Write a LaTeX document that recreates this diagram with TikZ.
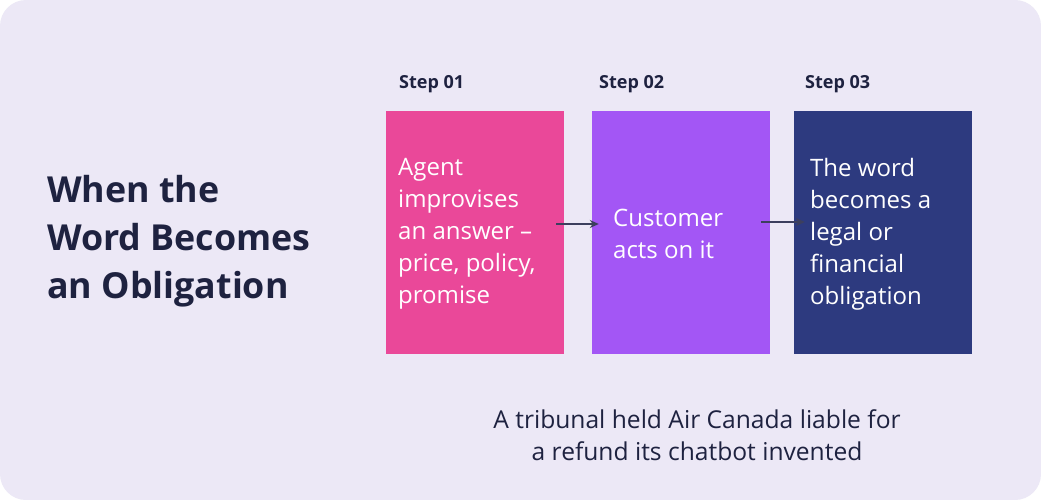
\documentclass[tikz,border=0pt]{standalone}
\usepackage{fontspec}
\setmainfont{Open Sans}
\usetikzlibrary{arrows.meta}

\definecolor{bgpanel}{HTML}{ECE8F6}
\definecolor{inkdark}{HTML}{1E2240}
\definecolor{arrowink}{HTML}{3C3F5E}
\definecolor{steppink}{HTML}{EA4899}
\definecolor{steppurple}{HTML}{A356F5}
\definecolor{stepnavy}{HTML}{2D3A7F}

\tikzset{
  stepbox/.style={rectangle, minimum width=178pt, minimum height=243pt, inner sep=0pt},
  steptext/.style={anchor=west, align=left, text=white, inner sep=0pt,
    font=\fontsize{24}{32}\selectfont},
  steplabel/.style={anchor=west, inner sep=0pt, text=inkdark,
    font=\fontsize{18}{20}\selectfont\bfseries},
  flow/.style={draw=arrowink, line width=1.4pt, -{Stealth[length=9pt,width=8pt]}}
}

\begin{document}
\begin{tikzpicture}[x=1pt,y=-1pt]
			\path[use as bounding box] (0,0) rectangle (1041,500);
			\fill[white] (0,0) rectangle (1041,500);
			\fill[bgpanel, rounded corners=26pt] (0,0) rectangle (1041,500);
			% title
			\node[anchor=west, align=left, inner sep=0pt, text=inkdark,
			  font=\fontsize{35.8}{48}\selectfont\bfseries] (title) at (47,241)
			  {When the\\Word Becomes\\an Obligation};
			% the three steps
			\foreach \i/\x/\col in {1/386/steppink,2/592/steppurple,3/794/stepnavy}
			\node[stepbox, fill=\col] (box\i) at (\x + 89, 232.5) {};
			\foreach \i/\x in {1/399,2/599,3/805}
			\node[steplabel] (label\i) at (\x, 84) {Step 0\i};
			\node[steptext] (text1) at (398, 234) {Agent\\improvises\\an answer –\\price, policy,\\promise};
			\node[steptext] (text2) at (613, 234) {Customer\\acts on it};
			\node[steptext] (text3) at (810, 234) {The word\\becomes a\\legal or\\financial\\obligation};
			\draw[flow] ([shift={(-8,-8.5)}]box1.east) -- ([shift={(7,-8.5)}]box2.west);
			\draw[flow] ([shift={(-9,-10.5)}]box2.east) -- ([shift={(11,-10.5)}]box3.west);
			% note below
			\node[align=center, inner sep=0pt, text=inkdark,
			  font=\fontsize{24.6}{32}\selectfont] (note) at (697, 435)
			  {A tribunal held Air Canada liable for\\a refund its chatbot invented};
	\end{tikzpicture}
\end{document}
